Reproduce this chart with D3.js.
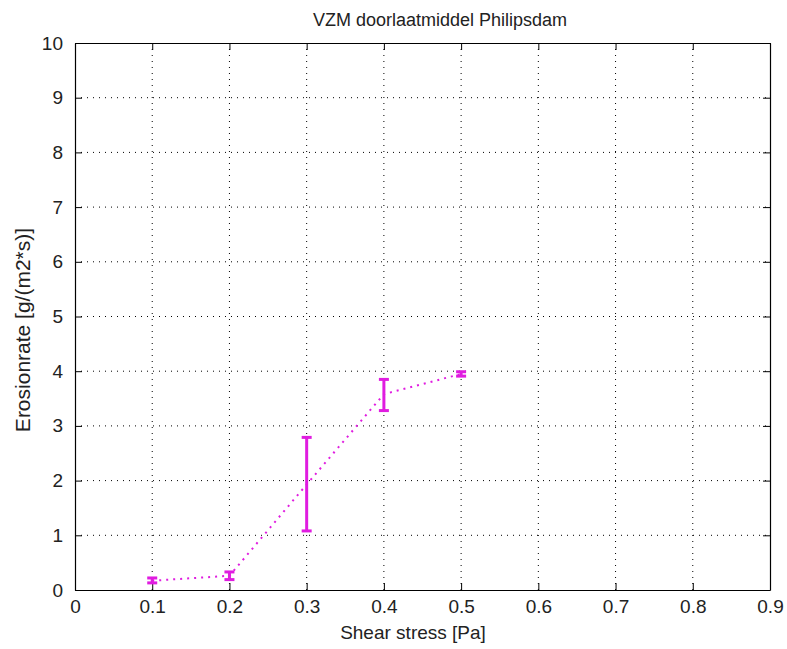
<!DOCTYPE html>
<html><head><meta charset="utf-8">
<script src="https://cdn.jsdelivr.net/npm/d3@7"></script>
<style>body{margin:0;background:#fff}svg{display:block}text{font-family:"Liberation Sans",Arial,sans-serif;fill:#222}</style>
</head><body><svg id="c" width="787" height="649"></svg>
<script>
const shearStress = [0.1, 0.2, 0.3, 0.4, 0.5];
const erosionMean = [0.17, 0.26, 1.93, 3.58, 3.95];
const erosionLow  = [0.13, 0.19, 1.08, 3.28, 3.91];
const erosionHigh = [0.22, 0.33, 2.79, 3.85, 3.99];
const xTicks = [0,0.1,0.2,0.3,0.4,0.5,0.6,0.7,0.8,0.9];
const yTicks = [0,1,2,3,4,5,6,7,8,9,10];
const title = "VZM doorlaatmiddel Philipsdam";
const xLabel = "Shear stress [Pa]";
const yLabel = "Erosionrate [g/(m2*s)]";

const svg = d3.select("#c");
const L = 75, R = 770, T = 43, B = 590;
const x = d3.scaleLinear().domain([0,0.9]).range([L,R]);
const y = d3.scaleLinear().domain([0,10]).range([B,T]);
const col = "#e01ce0";

// grid
const g = svg.append("g");
g.selectAll(".gx").data(xTicks.slice(1,-1)).enter().append("line")
 .attr("x1",d=>x(d)).attr("x2",d=>x(d)).attr("y1",B).attr("y2",T)
 .attr("stroke","#000").attr("stroke-width",1).attr("stroke-dasharray","1,5");
g.selectAll(".gy").data(yTicks.slice(1,-1)).enter().append("line")
 .attr("y1",d=>y(d)).attr("y2",d=>y(d)).attr("x1",L).attr("x2",R)
 .attr("stroke","#000").attr("stroke-width",1).attr("stroke-dasharray","1,5");

// axes
const xa = svg.append("g").attr("transform",`translate(0,${B})`)
 .call(d3.axisBottom(x).tickValues(xTicks).tickFormat(d3.format("")).tickSizeInner(-7).tickSizeOuter(0).tickPadding(10));
const xaT = svg.append("g").attr("transform",`translate(0,${T})`)
 .call(d3.axisTop(x).tickValues(xTicks).tickFormat("").tickSizeInner(-7).tickSizeOuter(0));
const ya = svg.append("g").attr("transform",`translate(${L},0)`)
 .call(d3.axisLeft(y).tickValues(yTicks).tickFormat(d3.format("")).tickSizeInner(-7).tickSizeOuter(0).tickPadding(12));
const yaR = svg.append("g").attr("transform",`translate(${R},0)`)
 .call(d3.axisRight(y).tickValues(yTicks).tickFormat("").tickSizeInner(-7).tickSizeOuter(0));
[xa,xaT,ya,yaR].forEach(a=>{
  a.selectAll(".domain").attr("stroke","#000").attr("stroke-width",1.2);
  a.selectAll(".tick line").attr("stroke","#000");
  a.selectAll("text").style("font-size","19px").attr("fill","#222");
});

// line
svg.append("path").datum(shearStress.map((s,i)=>[s,erosionMean[i]]))
 .attr("d",d3.line().x(d=>x(d[0])).y(d=>y(d[1])))
 .attr("fill","none").attr("stroke",col).attr("stroke-width",2).attr("stroke-dasharray","2,5");

// error bars
const eb = svg.append("g").selectAll("g").data(shearStress.map((s,i)=>({s,lo:erosionLow[i],hi:erosionHigh[i]}))).enter().append("g");
eb.append("line").attr("x1",d=>x(d.s)).attr("x2",d=>x(d.s)).attr("y1",d=>y(d.lo)).attr("y2",d=>y(d.hi))
 .attr("stroke",col).attr("stroke-width",3);
eb.append("line").attr("x1",d=>x(d.s)-5).attr("x2",d=>x(d.s)+5).attr("y1",d=>y(d.lo)).attr("y2",d=>y(d.lo))
 .attr("stroke",col).attr("stroke-width",3);
eb.append("line").attr("x1",d=>x(d.s)-5).attr("x2",d=>x(d.s)+5).attr("y1",d=>y(d.hi)).attr("y2",d=>y(d.hi))
 .attr("stroke",col).attr("stroke-width",3);

// labels
svg.append("text").attr("x",440).attr("y",26).attr("text-anchor","middle").style("font-size","18px").text(title);
svg.append("text").attr("x",413).attr("y",639).attr("text-anchor","middle").style("font-size","19px").text(xLabel);
svg.append("text").attr("transform",`translate(30,330) rotate(-90)`).attr("text-anchor","middle").style("font-size","21px").text(yLabel);
</script></body></html>
